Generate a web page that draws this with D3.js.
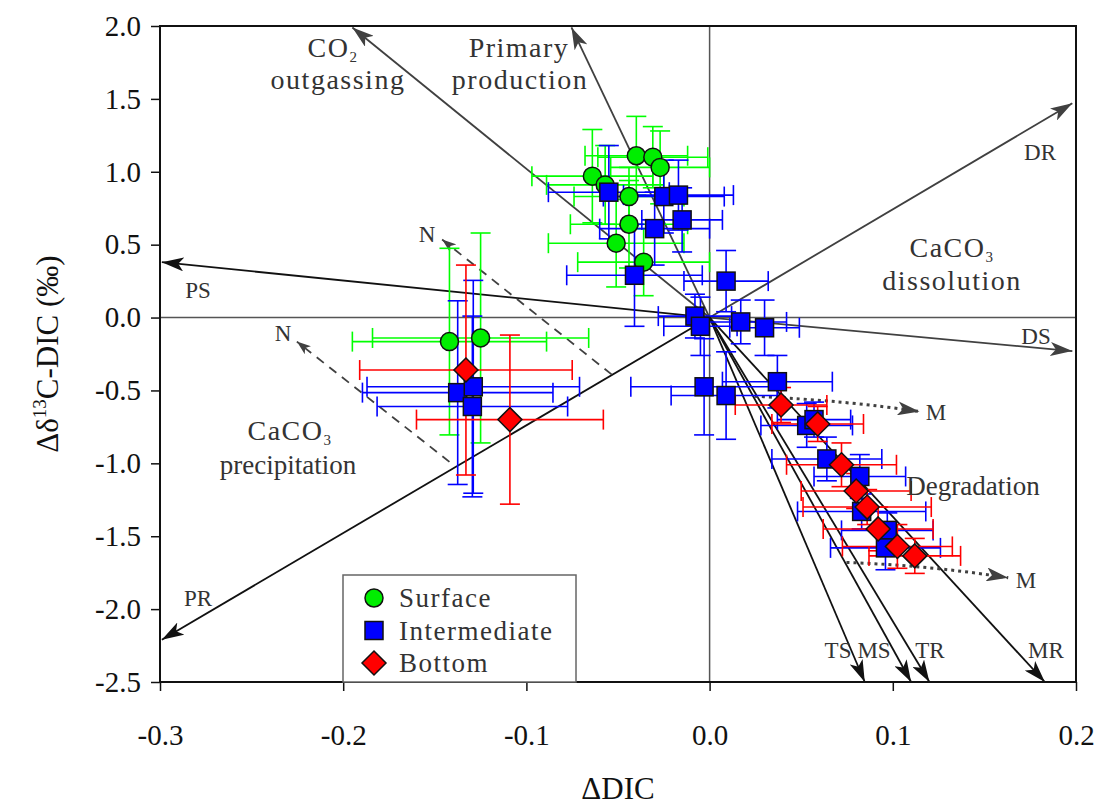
<!DOCTYPE html>
<head>
    <meta charset="utf-8">
    <script src="https://cdn.jsdelivr.net/npm/d3@7/dist/d3.min.js"></script>
    <style>
        body { margin: 0; background: #fff; }
        svg text { font-family: 'Liberation Serif', 'Times New Roman', Times, serif; }
    </style>
</head>
<body>
    <div id="chart"></div>
    <script>
        const width = 1103, height = 809;

        // données : [x, y, erreur x, erreur y]
        const surface = [
            [-0.040, 1.11, 0.028, 0.27], [-0.031, 1.10, 0.030, 0.21], [-0.027, 1.03, 0.027, 0.25],
            [-0.064, 0.97, 0.033, 0.32], [-0.057, 0.91, 0.032, 0.27], [-0.044, 0.83, 0.030, 0.20],
            [-0.044, 0.64, 0.032, 0.30], [-0.051, 0.51, 0.037, 0.30], [-0.036, 0.38, 0.036, 0.23],
            [-0.142, -0.165, 0.053, 0.64], [-0.125, -0.14, 0.059, 0.72]
        ];
        const intermediate = [
            [-0.055, 0.86, 0.033, 0.32], [-0.025, 0.83, 0.033, 0.25], [-0.017, 0.84, 0.030, 0.24],
            [-0.015, 0.67, 0.022, 0.22], [-0.030, 0.61, 0.030, 0.25], [-0.041, 0.29, 0.037, 0.35],
            [0.009, 0.25, 0.023, 0.21], [-0.008, 0.01, 0.020, 0.15], [-0.005, -0.06, 0.020, 0.20],
            [0.017, -0.03, 0.025, 0.15], [0.030, -0.07, 0.019, 0.19], [-0.003, -0.475, 0.040, 0.33],
            [0.009, -0.535, 0.030, 0.30], [0.037, -0.44, 0.030, 0.18], [0.053, -0.74, 0.025, 0.15],
            [0.057, -0.70, 0.020, 0.12], [0.064, -0.97, 0.030, 0.15], [0.082, -1.09, 0.025, 0.15],
            [0.083, -1.33, 0.035, 0.12], [0.097, -1.46, 0.025, 0.12], [0.096, -1.58, 0.030, 0.15],
            [-0.1375, -0.515, 0.052, 0.63], [-0.129, -0.475, 0.058, 0.73], [-0.1295, -0.61, 0.052, 0.62]
        ];
        const bottom = [
            [-0.133, -0.36, 0.058, 0.72], [-0.109, -0.70, 0.051, 0.58], [0.039, -0.60, 0.025, 0.12],
            [0.059, -0.73, 0.025, 0.12], [0.072, -1.01, 0.030, 0.15], [0.080, -1.19, 0.030, 0.12],
            [0.086, -1.30, 0.035, 0.12], [0.092, -1.45, 0.030, 0.15], [0.1025, -1.57, 0.030, 0.15],
            [0.112, -1.635, 0.025, 0.12]
        ];

        // vecteurs de processus depuis l'origine
        const vectors = [
            { name: "CO2", x: -0.195, y: 1.99, c: "#404040" },
            { name: "PP", x: -0.0754, y: 1.99, c: "#404040" },
            { name: "DR", x: 0.198, y: 1.47, c: "#404040" },
            { name: "DS", x: 0.198, y: -0.23, c: "#404040" },
            { name: "PS", x: -0.299, y: 0.38, c: "#111" },
            { name: "PR", x: -0.299, y: -2.21, c: "#111" },
            { name: "TS", x: 0.0847, y: -2.5, c: "#111" },
            { name: "MS", x: 0.110, y: -2.5, c: "#111" },
            { name: "TR", x: 0.120, y: -2.5, c: "#111" },
            { name: "MR", x: 0.183, y: -2.5, c: "#111" }
        ];
        // flèches N (tirets) et M (pointillés)
        const nArrows = [[[-0.0535, -0.39], [-0.146, 0.535]], [[-0.142, -0.99], [-0.2253, -0.165]]];
        const mArrows = [[[0.0246, -0.54], [0.075, -0.57], [0.1146, -0.645]],
                         [[0.0747, -1.68], [0.12, -1.70], [0.163, -1.785]]];

        const xTicks = [-0.3, -0.2, -0.1, 0.0, 0.1, 0.2];
        const yTicks = [2.0, 1.5, 1.0, 0.5, 0.0, -0.5, -1.0, -1.5, -2.0, -2.5];

        const x = d3.scaleLinear().domain([-0.3, 0.2]).range([160, 1076]);
        const y = d3.scaleLinear().domain([-2.5, 2.0]).range([682, 26]);

        const svg = d3.select("#chart").append("svg")
            .attr("width", width).attr("height", height);

        const defs = svg.append("defs");
        function marker(id, color, len, wid) {
            defs.append("marker").attr("id", id)
                .attr("markerUnits", "userSpaceOnUse")
                .attr("viewBox", `0 0 ${len} ${wid}`)
                .attr("refX", len).attr("refY", wid / 2)
                .attr("markerWidth", len).attr("markerHeight", wid)
                .attr("orient", "auto")
                .append("path").attr("d", `M0,0L${len},${wid / 2}L0,${wid}L${len * 0.25},${wid / 2}Z`)
                .attr("fill", color);
        }
        marker("ag", "#404040", 22, 14);
        marker("ab", "#111", 22, 14);
        marker("am", "#404040", 22, 14);
        marker("an", "#404040", 14, 10);

        // lignes de référence
        svg.append("line").attr("x1", x(0)).attr("x2", x(0)).attr("y1", y(2)).attr("y2", y(-2.5))
            .attr("stroke", "#555").attr("stroke-width", 1.5);
        svg.append("line").attr("x1", x(-0.3)).attr("x2", x(0.2)).attr("y1", y(0)).attr("y2", y(0))
            .attr("stroke", "#555").attr("stroke-width", 1.5);

        // vecteurs
        svg.append("g").selectAll("line").data(vectors).join("line")
            .attr("x1", x(0)).attr("y1", y(0))
            .attr("x2", d => x(d.x)).attr("y2", d => y(d.y))
            .attr("stroke", d => d.c).attr("stroke-width", 1.8)
            .attr("marker-end", d => d.c === "#111" ? "url(#ab)" : "url(#ag)");

        svg.append("g").selectAll("line").data(nArrows).join("line")
            .attr("x1", d => x(d[0][0])).attr("y1", d => y(d[0][1]))
            .attr("x2", d => x(d[1][0])).attr("y2", d => y(d[1][1]))
            .attr("stroke", "#404040").attr("stroke-width", 1.8)
            .attr("stroke-dasharray", "9,7")
            .attr("marker-end", "url(#an)");

        svg.append("g").selectAll("path").data(mArrows).join("path")
            .attr("d", d => `M${x(d[0][0])},${y(d[0][1])}Q${x(d[1][0])},${y(d[1][1])} ${x(d[2][0])},${y(d[2][1])}`)
            .attr("fill", "none").attr("stroke", "#404040").attr("stroke-width", 3)
            .attr("stroke-dasharray", "3,4")
            .attr("marker-end", "url(#am)");

        // barres d'erreur
        const series = [
            { data: surface, color: "#00ff00", fill: "#00ee00", shape: "circle" },
            { data: intermediate, color: "#0000ff", fill: "#0000ff", shape: "square" },
            { data: bottom, color: "#ff0000", fill: "#ff0000", shape: "diamond" }
        ];
        const cap = 10;
        series.forEach(s => {
            const g = svg.append("g").attr("stroke", s.color).attr("stroke-width", 1.6);
            s.data.forEach(d => {
                const px = x(d[0]), py = y(d[1]);
                const x0 = x(d[0] - d[2]), x1 = x(d[0] + d[2]);
                const y0 = y(d[1] - d[3]), y1 = y(d[1] + d[3]);
                g.append("line").attr("x1", x0).attr("x2", x1).attr("y1", py).attr("y2", py);
                g.append("line").attr("x1", px).attr("x2", px).attr("y1", y0).attr("y2", y1);
                g.append("line").attr("x1", x0).attr("x2", x0).attr("y1", py - cap).attr("y2", py + cap);
                g.append("line").attr("x1", x1).attr("x2", x1).attr("y1", py - cap).attr("y2", py + cap);
                g.append("line").attr("x1", px - cap).attr("x2", px + cap).attr("y1", y0).attr("y2", y0);
                g.append("line").attr("x1", px - cap).attr("x2", px + cap).attr("y1", y1).attr("y2", y1);
            });
        });

        function symbol(g, shape, cx, cy) {
            if (shape === "circle") {
                g.append("circle").attr("cx", cx).attr("cy", cy).attr("r", 9);
            } else if (shape === "square") {
                g.append("rect").attr("x", cx - 9).attr("y", cy - 9).attr("width", 18).attr("height", 18);
            } else {
                g.append("path").attr("d", `M${cx},${cy - 12}L${cx + 12},${cy}L${cx},${cy + 12}L${cx - 12},${cy}Z`);
            }
        }
        series.forEach(s => {
            const g = svg.append("g").attr("fill", s.fill).attr("stroke", "#111").attr("stroke-width", 1.5);
            s.data.forEach(d => symbol(g, s.shape, x(d[0]), y(d[1])));
        });

        // cadre et axes
        svg.append("rect").attr("x", x(-0.3)).attr("y", y(2)).attr("width", x(0.2) - x(-0.3))
            .attr("height", y(-2.5) - y(2)).attr("fill", "none").attr("stroke", "#111").attr("stroke-width", 2);

        const fmt = d => d3.format(".1f")(d).replace("−", "-");
        svg.append("g").attr("transform", `translate(0,${y(-2.5)})`)
            .call(d3.axisBottom(x).tickValues(xTicks).tickFormat(fmt).tickSize(9).tickPadding(33))
            .call(g => g.select(".domain").remove())
            .call(g => g.selectAll("line").attr("stroke", "#111").attr("stroke-width", 1.5))
            .call(g => g.selectAll("text").attr("font-size", 29).attr("fill", "#111"));
        svg.append("g").attr("transform", `translate(${x(-0.3)},0)`)
            .call(d3.axisLeft(y).tickValues(yTicks).tickFormat(fmt).tickSize(9).tickPadding(10))
            .call(g => g.select(".domain").remove())
            .call(g => g.selectAll("line").attr("stroke", "#111").attr("stroke-width", 1.5))
            .call(g => g.selectAll("text").attr("font-size", 29).attr("fill", "#111"));

        svg.append("text").attr("x", (x(-0.3) + x(0.2)) / 2).attr("y", 799)
            .attr("text-anchor", "middle").attr("font-size", 31).attr("fill", "#111").text("ΔDIC");
        const yt = svg.append("text").attr("transform", `translate(58,${(y(2) + y(-2.5)) / 2}) rotate(-90)`)
            .attr("text-anchor", "middle").attr("font-size", 31).attr("fill", "#111");
        yt.append("tspan").text("Δδ");
        yt.append("tspan").attr("font-size", 19).attr("dy", -12).text("13");
        yt.append("tspan").attr("dy", 12).text("C-DIC (‰)");

        // étiquettes
        const lab = svg.append("g").attr("fill", "#333").attr("font-size", 28).attr("letter-spacing", 1.5);
        function label(tx, ty, txt) {
            return lab.append("text").attr("x", tx).attr("y", ty).attr("text-anchor", "middle").text(txt);
        }
        function sub(tx, ty, main, idx) {
            const t = lab.append("text").attr("x", tx).attr("y", ty).attr("text-anchor", "middle");
            t.append("tspan").text(main);
            t.append("tspan").attr("font-size", 15).attr("dy", 5).text(idx);
        }
        sub(333, 57, "CO", "2");
        label(338, 89, "outgassing");
        label(519, 57, "Primary");
        label(520, 89, "production");
        sub(952, 257, "CaCO", "3");
        label(952, 290, "dissolution");
        sub(290, 440, "CaCO", "3");
        label(288, 474, "precipitation").attr("font-size", 27).attr("letter-spacing", 0);
        label(973, 495, "Degradation").attr("font-size", 27).attr("letter-spacing", 0);

        const small = svg.append("g").attr("fill", "#333").attr("font-size", 23);
        [["PS", 198, 298], ["PR", 198, 606], ["DR", 1040, 160], ["DS", 1036, 344],
         ["TS", 838, 658], ["MS", 874, 658], ["TR", 930, 658], ["MR", 1046, 658],
         ["N", 427, 242], ["N", 283, 341], ["M", 936, 420], ["M", 1026, 588]]
            .forEach(d => small.append("text").attr("x", d[1]).attr("y", d[2])
                .attr("text-anchor", "middle").text(d[0]));

        // légende
        const legend = svg.append("g");
        legend.append("rect").attr("x", 343).attr("y", 575).attr("width", 233).attr("height", y(-2.5) - 575)
            .attr("fill", "#fff").attr("stroke", "#666").attr("stroke-width", 1.5);
        const names = ["Surface", "Intermediate", "Bottom"];
        series.forEach((s, i) => {
            const g = legend.append("g").attr("fill", s.fill).attr("stroke", "#111").attr("stroke-width", 1.5);
            symbol(g, s.shape, 374, 598 + i * 32.5);
            legend.append("text").attr("x", 399).attr("y", 607 + i * 32.5)
                .attr("font-size", 27).attr("letter-spacing", 1.5).attr("fill", "#333").text(names[i]);
        });
    </script>
</body>
